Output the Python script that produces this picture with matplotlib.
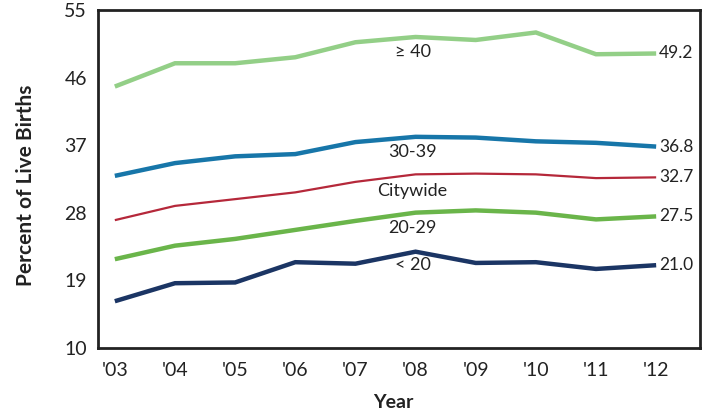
import matplotlib
matplotlib.use("Agg")
import matplotlib.pyplot as plt

years = ["'03", "'04", "'05", "'06", "'07", "'08", "'09", "'10", "'11", "'12"]
age40 = [44.8, 47.9, 47.9, 48.7, 50.7, 51.4, 51.0, 52.0, 49.1, 49.2]
age30 = [32.9, 34.6, 35.5, 35.8, 37.4, 38.1, 38.0, 37.5, 37.3, 36.8]
citywide = [27.0, 28.9, 29.8, 30.7, 32.1, 33.1, 33.2, 33.1, 32.6, 32.7]
age20 = [21.8, 23.6, 24.5, 25.7, 26.9, 28.0, 28.3, 28.0, 27.1, 27.5]
under20 = [16.2, 18.6, 18.7, 21.4, 21.2, 22.8, 21.3, 21.4, 20.5, 21.0]
yticks = [10, 19, 28, 37, 46, 55]

series = [
    ("\u2265 40", age40, "#93cf87", 3.2, 49.4),
    ("30-39", age30, "#1776a9", 3.2, 36.05),
    ("Citywide", citywide, "#b5283a", 1.6, 30.9),
    ("20-29", age20, "#6ab54a", 3.2, 25.9),
    ("< 20", under20, "#1b3564", 3.2, 21.0),
]

plt.rcParams['font.family'] = ['Lato', 'DejaVu Sans']
fig = plt.figure(figsize=(7.05, 4.15), dpi=100)
ax = fig.add_axes([0.139, 0.162, 0.854, 0.814])
x = list(range(len(years)))
for name, vals, col, lw, ly in series:
    ax.plot(x, vals, color=col, lw=lw, solid_capstyle='butt', solid_joinstyle='miter')
    ax.text(x[-1] + 0.05, vals[-1], f"{vals[-1]:.1f}", fontsize=12.5, color='#222222',
            va='center', ha='left')
    ax.text(4.95, ly, name, fontsize=13, color='#222222', ha='center', va='center',
            family=['Lato', 'DejaVu Sans'])

ax.set_xlim(-0.28, 9.73)
ax.set_ylim(10, 55)
ax.set_xticks(x)
ax.set_xticklabels(years, fontsize=14, color='#222222')
ax.set_yticks(yticks)
ax.set_yticklabels([str(t) for t in yticks], fontsize=14, color='#222222')
ax.tick_params(length=0, pad=8)
ax.tick_params(axis='x', pad=10)
for s in ax.spines.values():
    s.set_color('#222222')
    s.set_linewidth(2)
ax.set_xlabel("Year", fontsize=14, fontweight='bold', color='#222222')
ax.xaxis.set_label_coords(0.491, -0.138)
ax.set_ylabel("Percent of Live Births", fontsize=15, fontweight='bold', color='#222222')
ax.yaxis.set_label_coords(-0.103, 0.48)
fig.savefig("out.png", dpi=100)
